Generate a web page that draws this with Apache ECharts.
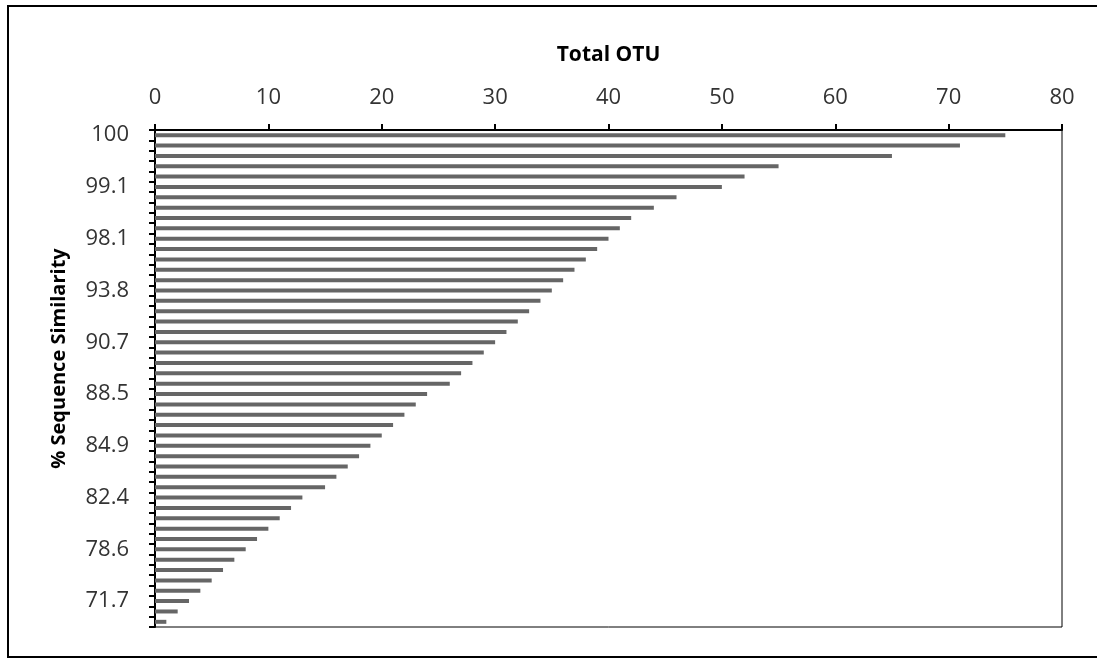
<!DOCTYPE html>
<html>
<head>
<meta charset="utf-8">
<script src="https://cdn.jsdelivr.net/npm/echarts@6/dist/echarts.min.js"></script>
<style>
html,body{margin:0;padding:0;background:#fff;}
#chart{width:1097px;height:659px;}
</style>
</head>
<body>
<div id="chart"></div>
<script>
// Category labels (% sequence similarity); only every 5th is labelled in the reference
var categories = [
  '100','','','','',
  '99.1','','','','',
  '98.1','','','','',
  '93.8','','','','',
  '90.7','','','','',
  '88.5','','','','',
  '84.9','','','','',
  '82.4','','','','',
  '78.6','','','','',
  '71.7','',''
];
// Total OTU values, top to bottom
var totalOTU = [
  75,71,65,55,52,50,46,44,42,41,
  40,39,38,37,36,35,34,33,32,31,
  30,29,28,27,26,24,23,22,21,20,
  19,18,17,16,15,13,12,11,10,9,
  8,7,6,5,4,3,2,1
];
var xTicks = [0,10,20,30,40,50,60,70,80];

var chart = echarts.init(document.getElementById('chart'));
var FONT = 'Open Sans';
chart.setOption({
  animation: false,
  backgroundColor: '#fff',
  graphic: [{
    type: 'rect',
    shape: {x: 8, y: 6, width: 1100, height: 651},
    style: {fill: 'none', stroke: '#000', lineWidth: 2},
    silent: true
  }],
  grid: {
    left: 155, right: 35, top: 130, bottom: 32,
    show: true, borderColor: '#000', borderWidth: 1, backgroundColor: 'transparent'
  },
  xAxis: {
    type: 'value',
    position: 'top',
    min: xTicks[0], max: xTicks[xTicks.length - 1], interval: 10,
    name: 'Total OTU',
    nameLocation: 'middle',
    nameGap: 64,
    nameTextStyle: {fontFamily: FONT, fontSize: 21, fontWeight: 'bold', color: '#000'},
    axisLine: {show: true, lineStyle: {color: '#000', width: 2}},
    axisTick: {show: true, inside: false, length: 6, lineStyle: {color: '#000', width: 2}},
    axisLabel: {fontFamily: FONT, fontSize: 22, color: '#333', margin: 21},
    splitLine: {show: false}
  },
  yAxis: {
    type: 'category',
    inverse: true,
    data: categories,
    name: '% Sequence Similarity',
    nameLocation: 'middle',
    nameGap: 86,
    nameTextStyle: {fontFamily: FONT, fontSize: 20, fontWeight: 'bold', color: '#000', padding: [0, 0, 0, 40]},
    axisLine: {show: true, lineStyle: {color: '#000', width: 2}},
    axisTick: {show: true, inside: false, length: 6, interval: 0, alignWithLabel: false, lineStyle: {color: '#000', width: 2}},
    axisLabel: {fontFamily: FONT, fontSize: 22, color: '#333', margin: 26, interval: 0},
    splitLine: {show: false}
  },
  series: [{
    type: 'bar',
    data: totalOTU,
    barWidth: 4,
    itemStyle: {color: '#666666'}
  }]
});
</script>
</body>
</html>
